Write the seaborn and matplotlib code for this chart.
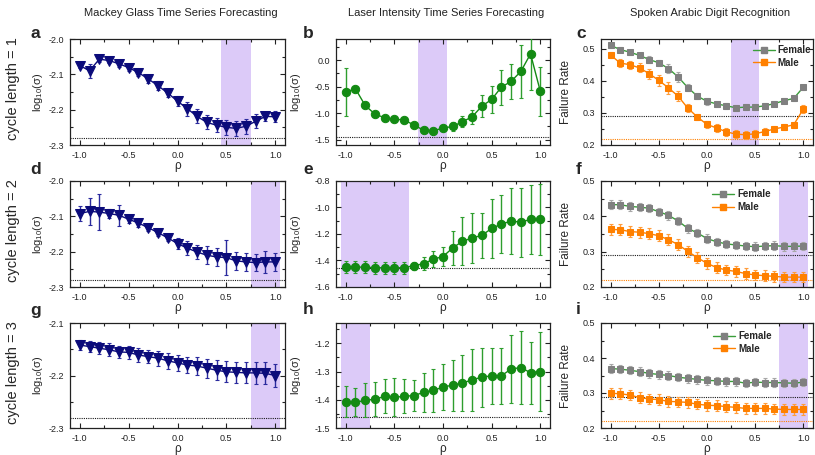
import matplotlib
matplotlib.use("Agg")
import matplotlib.pyplot as plt
import seaborn as sns
import pandas as pd
from matplotlib.ticker import MultipleLocator
from matplotlib.lines import Line2D

# ---------------- data ----------------
rho = [-1.0, -0.9, -0.8, -0.7, -0.6, -0.5, -0.4, -0.3, -0.2, -0.1, 0.0,
       0.1, 0.2, 0.3, 0.4, 0.5, 0.6, 0.7, 0.8, 0.9, 1.0]

col_titles = ["Mackey Glass Time Series Forecasting",
              "Laser Intensity Time Series Forecasting",
              "Spoken Arabic Digit Recognition"]
row_titles = ["cycle length = 1", "cycle length = 2", "cycle length = 3"]
panel_letters = ["a", "b", "c", "d", "e", "f", "g", "h", "i"]

# Mackey Glass
mg1 = [-2.075, -2.090, -2.057, -2.061, -2.070, -2.081, -2.095, -2.113, -2.132, -2.153, -2.176,
       -2.197, -2.219, -2.236, -2.244, -2.250, -2.253, -2.247, -2.233, -2.219, -2.220]
mg1_err = [0.008, 0.020, 0.008, 0.008, 0.008, 0.010, 0.010, 0.012, 0.012, 0.012, 0.015,
           0.020, 0.020, 0.020, 0.020, 0.022, 0.022, 0.022, 0.020, 0.012, 0.015]
mg2 = [-2.092, -2.086, -2.088, -2.092, -2.097, -2.108, -2.119, -2.132, -2.146, -2.161, -2.177,
       -2.190, -2.201, -2.210, -2.215, -2.217, -2.226, -2.229, -2.231, -2.229, -2.229]
mg2_err = [0.020, 0.038, 0.050, 0.012, 0.030, 0.010, 0.012, 0.010, 0.010, 0.010, 0.015,
           0.020, 0.020, 0.025, 0.025, 0.050, 0.025, 0.025, 0.025, 0.030, 0.025]
mg3 = [-2.142, -2.145, -2.148, -2.151, -2.155, -2.156, -2.161, -2.164, -2.167, -2.172, -2.176,
       -2.180, -2.182, -2.186, -2.190, -2.193, -2.194, -2.195, -2.195, -2.196, -2.200]
mg3_err = [0.010, 0.011, 0.011, 0.012, 0.012, 0.012, 0.013, 0.013, 0.014, 0.015, 0.015,
           0.016, 0.017, 0.018, 0.019, 0.020, 0.020, 0.020, 0.021, 0.021, 0.022]

# Laser intensity
li1 = [-0.60, -0.54, -0.854, -1.017, -1.086, -1.117, -1.124, -1.224, -1.318, -1.331, -1.281,
       -1.249, -1.161, -1.067, -0.866, -0.741, -0.508, -0.400, -0.213, 0.119, -0.584]
li1_err = [0.46, 0.05, 0.03, 0.03, 0.03, 0.03, 0.03, 0.03, 0.03, 0.04, 0.06,
           0.08, 0.10, 0.13, 0.20, 0.25, 0.33, 0.33, 0.50, 0.68, 0.46]
li2 = [-1.450, -1.450, -1.450, -1.455, -1.455, -1.455, -1.455, -1.438, -1.425, -1.390, -1.370,
       -1.305, -1.255, -1.230, -1.210, -1.158, -1.125, -1.103, -1.110, -1.090, -1.090]
li2_err = [0.045, 0.045, 0.045, 0.045, 0.045, 0.045, 0.045, 0.030, 0.050, 0.060, 0.070,
           0.130, 0.180, 0.190, 0.170, 0.220, 0.220, 0.250, 0.260, 0.260, 0.270]
li3 = [-1.407, -1.409, -1.402, -1.398, -1.388, -1.391, -1.388, -1.385, -1.374, -1.367, -1.355,
       -1.348, -1.341, -1.329, -1.320, -1.315, -1.315, -1.291, -1.286, -1.304, -1.300]
li3_err = [0.055, 0.050, 0.060, 0.060, 0.060, 0.068, 0.060, 0.055, 0.070, 0.075, 0.080,
           0.090, 0.100, 0.110, 0.105, 0.100, 0.100, 0.120, 0.130, 0.110, 0.140]

# Spoken Arabic digits: failure rates
fem1 = [0.510, 0.497, 0.489, 0.479, 0.466, 0.456, 0.438, 0.412, 0.379, 0.352, 0.336,
        0.328, 0.322, 0.316, 0.318, 0.318, 0.322, 0.329, 0.338, 0.345, 0.380]
fem1_err = [0.008, 0.008, 0.008, 0.008, 0.010, 0.010, 0.015, 0.015, 0.012, 0.010, 0.010,
            0.010, 0.010, 0.010, 0.010, 0.010, 0.008, 0.008, 0.008, 0.008, 0.008]
male1 = [0.480, 0.455, 0.450, 0.440, 0.422, 0.401, 0.378, 0.352, 0.315, 0.287, 0.264,
         0.253, 0.241, 0.234, 0.232, 0.235, 0.242, 0.250, 0.256, 0.263, 0.312]
male1_err = [0.010, 0.012, 0.012, 0.014, 0.015, 0.018, 0.018, 0.015, 0.012, 0.010, 0.012,
             0.012, 0.012, 0.012, 0.012, 0.012, 0.010, 0.010, 0.010, 0.010, 0.012]
fem2 = [0.433, 0.433, 0.428, 0.426, 0.423, 0.413, 0.403, 0.387, 0.366, 0.353, 0.337,
        0.328, 0.322, 0.319, 0.316, 0.314, 0.316, 0.317, 0.315, 0.315, 0.316]
fem2_err = [0.012] * 21
male2 = [0.363, 0.362, 0.357, 0.355, 0.351, 0.345, 0.334, 0.320, 0.301, 0.283, 0.267,
         0.255, 0.248, 0.244, 0.238, 0.234, 0.232, 0.230, 0.228, 0.228, 0.228]
male2_err = [0.015] * 21
fem3 = [0.370, 0.368, 0.365, 0.361, 0.356, 0.353, 0.350, 0.345, 0.342, 0.339, 0.336,
        0.335, 0.333, 0.333, 0.328, 0.331, 0.330, 0.330, 0.329, 0.328, 0.331]
fem3_err = [0.012] * 21
male3 = [0.299, 0.298, 0.294, 0.287, 0.283, 0.281, 0.276, 0.275, 0.273, 0.268, 0.265,
         0.264, 0.261, 0.259, 0.256, 0.256, 0.256, 0.254, 0.253, 0.253, 0.253]
male3_err = [0.015] * 21

# optimum shaded ranges
shades = [(0.45, 0.75), (-0.26, 0.04), (0.25, 0.54),
          (0.75, 1.05), (-1.05, -0.35), (0.75, 1.05),
          (0.75, 1.05), (-1.05, -0.75), (0.75, 1.05)]
# baseline (dotted) levels
mg_base = -2.28
li_base = [-1.45, -1.46, -1.46]
sad_base_female = 0.29
sad_base_male = 0.22

# ---------------- style ----------------
sns.set_theme(style="ticks")
plt.rcParams["font.family"] = ["Liberation Sans", "DejaVu Sans"]
plt.rcParams["mathtext.fontset"] = "custom"
plt.rcParams["mathtext.rm"] = "Liberation Sans"
plt.rcParams["mathtext.it"] = "Liberation Sans"

NAVY = "#0b0b7a"
NAVY_E = "#2a2a9e"
GREEN = "#138a13"
GREEN_E = "#2e9e2e"
GREY = "#808080"
GREY_E = "#a8a8a8"
ORANGE = "#ff8000"
ORANGE_E = "#ff9d3c"
FEM_LINE = "#3a9e3a"
SHADE = "#dccaf8"

W, H = 815, 455
fig = plt.figure(figsize=(W / 100, H / 100), dpi=100)

col_x = [(70, 285), (336, 550), (601, 813)]
row_y = [(39, 145), (181, 287), (323, 428)]

ylims = [(-2.3, -2.0), (-1.6, 0.4), (0.2, 0.53),
         (-2.3, -2.0), (-1.6, -0.8), (0.2, 0.5),
         (-2.3, -2.1), (-1.5, -1.128), (0.2, 0.5)]
ymaj = [0.1, 0.5, 0.1, 0.1, 0.2, 0.1, 0.1, 0.1, 0.1]

mg = [(mg1, mg1_err), (mg2, mg2_err), (mg3, mg3_err)]
li = [(li1, li1_err), (li2, li2_err), (li3, li3_err)]
sad = [(fem1, fem1_err, male1, male1_err),
       (fem2, fem2_err, male2, male2_err),
       (fem3, fem3_err, male3, male3_err)]
leg_anchor = [(0.715, 0.94), (0.524, 0.92), (0.528, 0.92)]


def series(ax, y, err, mcolor, ecolor, lcolor, marker, ms):
    df = pd.DataFrame({"rho": rho, "val": y})
    ax.errorbar(rho, y, yerr=err, fmt="none", ecolor=ecolor, elinewidth=1.0,
                capsize=1.5, capthick=0.8, zorder=3)
    sns.lineplot(data=df, x="rho", y="val", ax=ax, color=lcolor, lw=1.0,
                 marker=marker, markersize=ms, markerfacecolor=mcolor,
                 markeredgecolor=mcolor, zorder=4, legend=False)


for r in range(3):
    for c in range(3):
        k = r * 3 + c
        x0, x1 = col_x[c]
        y0, y1 = row_y[r]
        ax = fig.add_axes([x0 / W, 1 - y1 / H, (x1 - x0) / W, (y1 - y0) / H])
        ax.axvspan(*shades[k], color=SHADE, lw=0, zorder=0)
        if c == 0:
            y, e = mg[r]
            ax.axhline(mg_base, color="k", ls=(0, (1, 1)), lw=0.8, zorder=2)
            series(ax, y, e, NAVY, NAVY_E, NAVY, "v", 6.5)
            ax.set_ylabel("log$_{10}$(σ)", fontsize=8)
            ax.yaxis.set_label_coords(-0.115, 0.5)
        elif c == 1:
            y, e = li[r]
            ax.axhline(li_base[r], color="k", ls=(0, (1, 1)), lw=0.8, zorder=2)
            series(ax, y, e, GREEN, GREEN_E, GREEN, "o", 6)
            ax.set_ylabel("log$_{10}$(σ)", fontsize=8)
            ax.yaxis.set_label_coords(-0.155, 0.5)
        else:
            f, fe, m, me = sad[r]
            ax.axhline(sad_base_female, color="k", ls=(0, (1, 1)), lw=0.8, zorder=2)
            ax.axhline(sad_base_male, color=ORANGE, ls=(0, (1, 1)), lw=0.8, zorder=2)
            series(ax, f, fe, GREY, GREY_E, FEM_LINE, "s", 5)
            series(ax, m, me, ORANGE, ORANGE_E, ORANGE, "s", 5)
            ax.set_ylabel("Failure Rate", fontsize=8.5)
            ax.yaxis.set_label_coords(-0.135, 0.5)
            handles = [Line2D([0], [0], color=FEM_LINE, lw=1, marker="s", ms=5,
                              mfc=GREY, mec=GREY),
                       Line2D([0], [0], color=ORANGE, lw=1, marker="s", ms=5,
                              mfc=ORANGE, mec=ORANGE)]
            ax.legend(handles, ["Female", "Male"], loc="upper left",
                      bbox_to_anchor=leg_anchor[r], frameon=False,
                      prop={"weight": "bold", "size": 7}, borderpad=0,
                      borderaxespad=0, handlelength=2.3, handletextpad=0.3,
                      labelspacing=0.25)

        ax.set_xlim(-1.1, 1.1)
        ax.set_ylim(*ylims[k])
        ax.xaxis.set_major_locator(MultipleLocator(0.5))
        ax.xaxis.set_minor_locator(MultipleLocator(0.25))
        ax.yaxis.set_major_locator(MultipleLocator(ymaj[k]))
        ax.yaxis.set_minor_locator(MultipleLocator(ymaj[k] / 2))
        ax.xaxis.set_major_formatter(plt.FuncFormatter(lambda v, p: f"{v:.1f}"))
        ax.yaxis.set_major_formatter(plt.FuncFormatter(lambda v, p: f"{v:.1f}"))
        ax.tick_params(which="both", direction="in", top=True, right=True,
                       labelsize=6.5, colors="#222222", width=0.8)
        ax.tick_params(which="major", length=3.5, pad=4)
        ax.tick_params(which="minor", length=2)
        ax.set_xlabel("ρ", fontsize=8.5, labelpad=0)
        for s in ax.spines.values():
            s.set_linewidth(0.9)
            s.set_color("#222222")
            s.set_visible(True)
        fig.text([30, 303, 576][c] / W, 1 - ([33, 169, 310][r]) / H,
                 panel_letters[k], fontsize=12.5, fontweight="bold",
                 ha="left", va="center")

for c in range(3):
    fig.text(((col_x[c][0] + col_x[c][1]) / 2 + 3) / W, 1 - 13 / H, col_titles[c],
             fontsize=8, ha="center", va="center", color="#222222")
for r in range(3):
    fig.text(13 / W, 1 - ((row_y[r][0] + row_y[r][1]) / 2 - 3) / H, row_titles[r],
             fontsize=10.5, rotation=90, ha="center", va="center")

fig.savefig("out.png", dpi=100)
